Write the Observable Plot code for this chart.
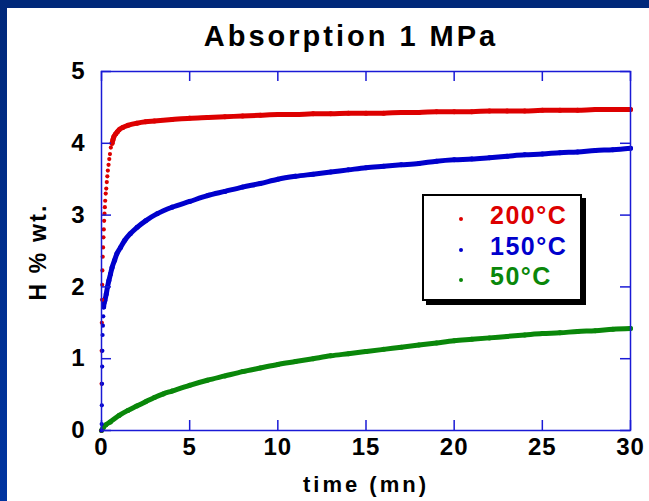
<!DOCTYPE html>
<html>
<head>
<meta charset="utf-8">
<script src="https://cdn.jsdelivr.net/npm/d3@7"></script>
<script src="https://cdn.jsdelivr.net/npm/@observablehq/plot@0.6"></script>
<style>
  html, body { margin: 0; padding: 0; background: #fff; }
  #wrap { position: relative; width: 649px; height: 501px; background: #fff; overflow: hidden;
          font-family: "Liberation Sans", Arial, Helvetica, sans-serif; font-weight: bold; }
  #chart { position: absolute; left: 0; top: 0; }
  .bar { position: absolute; background: #00287a; }
  .txt { position: absolute; white-space: nowrap; line-height: 1; }
  #legend { position: absolute; left: 422px; top: 194px; width: 156px; height: 103px;
            border: 2px solid #000; background: #fff; box-shadow: 4px 4px 0 #000; }
  .ldot { position: absolute; width: 4px; height: 4px; border-radius: 50%; }
</style>
</head>
<body>
<div id="wrap">
  <div id="chart"></div>
  <div class="bar" style="left:0;top:0;width:649px;height:8px;"></div>
  <div class="bar" style="left:0;top:0;width:7px;height:501px;background:linear-gradient(#00287a,#0034a0);"></div>
  <div id="title" class="txt"></div>
  <div id="xlabel" class="txt"></div>
  <div id="ylabel" class="txt"></div>
  <div id="legend"></div>
</div>
<script>
// ---- data ----
const titleText = "Absorption 1 MPa";
const xLabelText = "time (mn)";
const yLabelText = "H % wt.";
const seriesNames = ["200°C", "150°C", "50°C"];
const seriesColors = ["#dd0000", "#0000cc", "#0a870a"];
const xTicks = [0, 5, 10, 15, 20, 25, 30];
const yTicks = [0, 1, 2, 3, 4, 5];

// 200°C : early isolated points
const t200a = [0, 0.005, 0.01, 0.02, 0.03, 0.04, 0.05, 0.07, 0.09, 0.11, 0.13, 0.15, 0.17, 0.19, 0.21, 0.24, 0.27, 0.30, 0.33, 0.36, 0.40, 0.44, 0.48, 0.53, 0.58];
const h200a = [0, 0.65, 1.11, 1.50, 1.82, 2.03, 2.23, 2.42, 2.55, 2.69, 2.80, 2.92, 3.02, 3.11, 3.20, 3.30, 3.37, 3.46, 3.54, 3.62, 3.70, 3.78, 3.85, 3.94, 4.00];
// 200°C : dense part
const t200b = [0.6, 0.65, 0.7, 0.8, 0.9, 1.0, 1.2, 1.5, 2.0, 2.5, 3, 4, 5, 6, 7, 8, 9, 10, 11, 12, 13, 14, 15, 16, 17, 18, 19, 20, 21, 22, 23, 24, 25, 26, 27, 28, 29, 30];
const h200b = [4.00, 4.05, 4.09, 4.13, 4.16, 4.19, 4.22, 4.25, 4.28, 4.30, 4.31, 4.33, 4.35, 4.36, 4.37, 4.38, 4.39, 4.40, 4.40, 4.41, 4.41, 4.42, 4.42, 4.42, 4.43, 4.43, 4.44, 4.44, 4.44, 4.45, 4.45, 4.45, 4.46, 4.46, 4.46, 4.47, 4.47, 4.47];

// 150°C : early isolated points
const t150a = [0, 0.01, 0.02, 0.03, 0.04, 0.05, 0.06, 0.08, 0.10, 0.12];
const h150a = [0, 0.09, 0.35, 0.65, 0.89, 1.11, 1.33, 1.46, 1.59, 1.72];
// 150°C : dense part
const t150b = [0.12, 0.15, 0.19, 0.27, 0.34, 0.42, 0.51, 0.6, 0.74, 0.87, 1.08, 1.32, 1.63, 2.02, 2.5, 3.16, 4, 5, 6, 7, 8, 9, 10, 11, 12, 13, 14, 15, 16, 17, 18, 19, 20, 21, 22, 23, 24, 25, 26, 27, 28, 29, 30];
const h150b = [1.72, 1.78, 1.81, 1.90, 2.00, 2.09, 2.18, 2.27, 2.37, 2.46, 2.55, 2.65, 2.74, 2.83, 2.92, 3.02, 3.11, 3.19, 3.27, 3.33, 3.39, 3.44, 3.50, 3.54, 3.57, 3.60, 3.63, 3.66, 3.68, 3.70, 3.72, 3.75, 3.77, 3.78, 3.80, 3.82, 3.84, 3.85, 3.87, 3.88, 3.90, 3.91, 3.93];

// 50°C : dense part only
const t50b = [0, 0.1, 0.25, 0.5, 1, 1.5, 2, 2.5, 3, 3.5, 4, 5, 6, 7, 8, 9, 10, 11, 12, 13, 14, 15, 16, 17, 18, 19, 20, 21, 22, 23, 24, 25, 26, 27, 28, 29, 30];
const h50b = [0, 0.04, 0.08, 0.12, 0.21, 0.28, 0.34, 0.40, 0.46, 0.51, 0.55, 0.63, 0.70, 0.76, 0.82, 0.87, 0.92, 0.96, 1.00, 1.04, 1.07, 1.10, 1.13, 1.16, 1.19, 1.22, 1.25, 1.27, 1.29, 1.31, 1.33, 1.35, 1.36, 1.38, 1.39, 1.41, 1.42];

// ---- build tables ----
const zipS = (ts, hs, s) => ts.map((t, i) => ({t, h: hs[i], s}));
const sparse = [
  ...zipS(t200a, h200a, seriesNames[0]),
  ...zipS(t150a, h150a, seriesNames[1])
];
const dense = [
  ...zipS(t200b, h200b, seriesNames[0]),
  ...zipS(t150b, h150b, seriesNames[1]),
  ...zipS(t50b, h50b, seriesNames[2])
];

const W = 649, H = 501;
const mL = 101, mR = 19, mT = 71, mB = 71;
const xDom = [0, 30], yDom = [0, 5];
const tickPx = 10;
const yTickLen = tickPx * (yDom[1] - yDom[0]) / (H - mT - mB);
const xTickLen = tickPx * (xDom[1] - xDom[0]) / (W - mL - mR);
const axisBlue = "#1a1ad6";

const color = {domain: seriesNames, range: seriesColors};

const plot = Plot.plot({
  width: W, height: H,
  marginLeft: mL, marginRight: mR, marginTop: mT, marginBottom: mB,
  x: {domain: xDom},
  y: {domain: yDom},
  color,
  style: {fontFamily: "'Liberation Sans', Arial, sans-serif", background: "transparent", overflow: "visible", color: "#000"},
  marks: [
    Plot.line(dense, {x: "t", y: "h", z: "s", stroke: "s", strokeWidth: 5, curve: "monotone-x"}),
    Plot.dot(dense, {x: "t", y: "h", fill: "s", r: 2.5}),
    Plot.dot(sparse, {x: "t", y: "h", fill: "s", r: 2.1}),
    Plot.frame({stroke: axisBlue, strokeWidth: 1.5}),
    Plot.ruleX(xTicks, {x: d => d, y1: yDom[0], y2: yDom[0] + yTickLen, stroke: axisBlue, strokeWidth: 1.5}),
    Plot.ruleX(xTicks, {x: d => d, y1: yDom[1], y2: yDom[1] - yTickLen, stroke: axisBlue, strokeWidth: 1.5}),
    Plot.ruleY(yTicks, {y: d => d, x1: xDom[0], x2: xDom[0] + xTickLen, stroke: axisBlue, strokeWidth: 1.5}),
    Plot.ruleY(yTicks, {y: d => d, x1: xDom[1], x2: xDom[1] - xTickLen, stroke: axisBlue, strokeWidth: 1.5}),
    Plot.axisX({ticks: xTicks, tickFormat: "d", tickSize: 0, tickPadding: 7, fontSize: 24, fontWeight: "bold", label: null, fill: "#000"}),
    Plot.axisY({ticks: yTicks, tickFormat: "d", tickSize: 0, tickPadding: 16, fontSize: 24, fontWeight: "bold", label: null, fill: "#000"})
  ]
});
document.getElementById("chart").appendChild(plot);
plot.querySelectorAll('g[aria-label$="tick label"]').forEach(g => {
  g.style.fontSize = "24px";
  g.style.fontWeight = "bold";
  g.setAttribute("font-size", "24");
  g.querySelectorAll("text").forEach(t => { t.style.fontSize = "24px"; t.setAttribute("letter-spacing", "1"); });
});

// ---- texts ----
const title = document.getElementById("title");
title.textContent = titleText;
Object.assign(title.style, {left: "151px", width: "400px", textAlign: "center", top: "22px", fontSize: "29px", letterSpacing: "3px", color: "#000"});

const xl = document.getElementById("xlabel");
xl.textContent = xLabelText;
Object.assign(xl.style, {left: "216px", width: "300px", textAlign: "center", top: "474px", fontSize: "22px", letterSpacing: "3px", color: "#000"});

const yl = document.getElementById("ylabel");
yl.textContent = yLabelText;
Object.assign(yl.style, {left: "38px", top: "252px", fontSize: "23px", letterSpacing: "2.2px", color: "#000",
  transform: "translate(-50%,-50%) rotate(-90deg)"});

// ---- legend ----
const leg = document.getElementById("legend");
const legTop = [15, 46, 76];
seriesNames.forEach((name, i) => {
  const dot = document.createElement("div");
  dot.className = "ldot";
  Object.assign(dot.style, {left: "35px", top: (legTop[i] + 6) + "px", background: seriesColors[i]});
  leg.appendChild(dot);
  const lab = document.createElement("div");
  lab.className = "txt";
  lab.textContent = name;
  Object.assign(lab.style, {left: "66px", top: (legTop[i] - 8) + "px", fontSize: "25px", letterSpacing: "1.5px", color: seriesColors[i]});
  leg.appendChild(lab);
});
</script>
</body>
</html>
